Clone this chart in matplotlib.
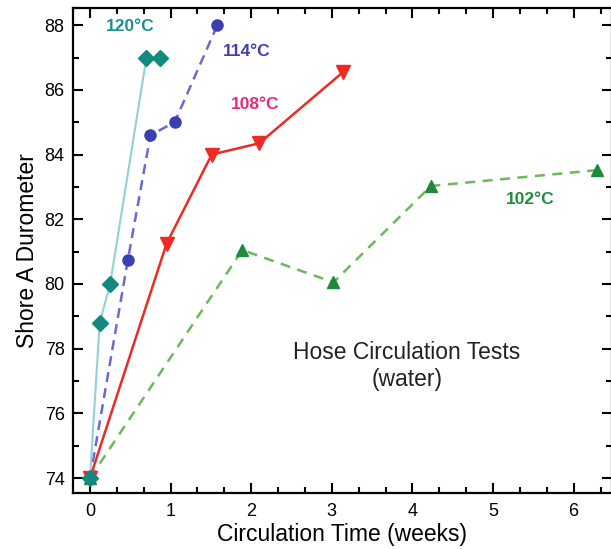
import matplotlib
matplotlib.use("Agg")
import matplotlib.pyplot as plt
from matplotlib.ticker import MultipleLocator

plt.rcParams['font.family'] = ['Liberation Sans', 'DejaVu Sans']

# Data
t120 = [0, 0.12, 0.25, 0.70, 0.87]
h120 = [74, 78.8, 80.0, 87.0, 87.0]
t114 = [0, 0.47, 0.75, 1.05, 1.58]
h114 = [74, 80.75, 84.6, 85.0, 88.0]
t108 = [0, 0.95, 1.51, 2.10, 3.14]
h108 = [74, 81.25, 84.0, 84.35, 86.55]
t102 = [0, 1.89, 3.02, 4.23, 6.29]
h102 = [74, 81.05, 80.05, 83.03, 83.52]

fig = plt.figure(figsize=(6.11, 5.49), dpi=100)
ax = fig.add_axes([73/611, 56/549, (612-73)/611, (493-8)/549])

ax.plot(t102, h102, ls=(0, (4, 3)), color='#6cb85a', lw=1.8, zorder=2)
ax.plot(t102, h102, ls='none', marker='^', ms=9, color='#1e8a3a', zorder=3)
ax.plot(t108, h108, ls='-', color='#ee2a24', lw=1.8, zorder=2)
ax.plot(t108, h108, ls='none', marker='v', ms=10, color='#ee2a24', zorder=3)
ax.plot(t114, h114, ls=(0, (4, 2.5)), color='#6a6ad2', lw=1.8, zorder=2)
ax.plot(t114, h114, ls='none', marker='o', ms=8, color='#3a40b0', zorder=3)
ax.plot(t120, h120, ls='-', color='#92d2d2', lw=1.5, zorder=2)
ax.plot(t120, h120, ls='none', marker='D', ms=8, color='#138a80', zorder=4)

ax.set_xlim(-0.211, 6.476)
ax.set_ylim(73.54, 88.53)

ax.xaxis.set_major_locator(MultipleLocator(1))
ax.xaxis.set_minor_locator(MultipleLocator(1/3))
ax.yaxis.set_major_locator(MultipleLocator(2))
ax.yaxis.set_minor_locator(MultipleLocator(1))
ax.tick_params(which='both', direction='in', top=True, right=True, width=1.5,
               labelsize=13, colors='black')
ax.tick_params(which='major', length=7)
ax.tick_params(which='minor', length=4)
ax.tick_params(axis='x', pad=7)
ax.tick_params(axis='y', pad=6)
for s in ax.spines.values():
    s.set_linewidth(1.6)

ax.set_xlabel('Circulation Time (weeks)', fontsize=16.5, labelpad=2)
ax.set_ylabel('Shore A Durometer', fontsize=16.5, labelpad=4)

ax.text(0.5, 87.95, '120\u00b0C', color='#1a9090', fontsize=12.5, fontweight='bold', ha='center', va='center')
ax.text(1.95, 87.2, '114\u00b0C', color='#4040b0', fontsize=12.5, fontweight='bold', ha='center', va='center')
ax.text(2.05, 85.56, '108\u00b0C', color='#e8297a', fontsize=12.5, fontweight='bold', ha='center', va='center')
ax.text(5.46, 82.6, '102\u00b0C', color='#1e8c3a', fontsize=12.5, fontweight='bold', ha='center', va='center')
ax.text(3.93, 77.46, 'Hose Circulation Tests\n(water)', color='#222222', fontsize=16.5,
        ha='center', va='center', linespacing=1.2)

fig.savefig('out.png', dpi=100)
